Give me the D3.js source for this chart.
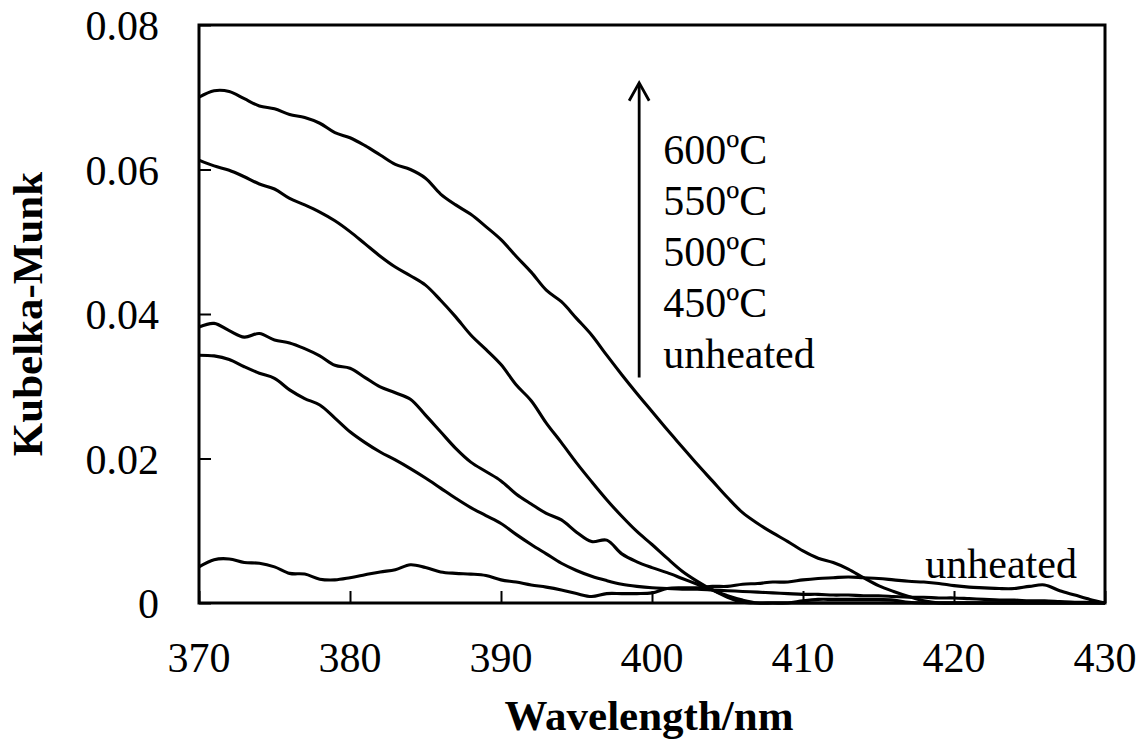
<!DOCTYPE html>
<meta charset="utf-8">
<style>
  body { margin: 0; background: #fff; }
  text { font-family: "Liberation Serif", "Times New Roman", serif; fill: #000; }
  .tick-label { font-size: 42px; }
  .axis-title { font-size: 43px; font-weight: bold; }
  .note { font-size: 42px; }
  .curve { fill: none; stroke: #000; stroke-width: 3.1px; stroke-linejoin: round; }
</style>
<body>
<script src="https://d3js.org/d3.v7.min.js"></script>
<script>

var width = 1145,
    height = 753,
    margin = {top: 25, right: 40, bottom: 150, left: 199};

// wavelength grid (nm)
var wavelength = d3.range(370, 431, 1);

// Kubelka-Munk values, one per nm
var km600 = [0.0700,0.0709,0.0708,0.0698,0.0688,0.0684,0.0676,0.0672,0.0664,0.0651,
             0.0644,0.0633,0.0620,0.0607,0.0600,0.0588,0.0566,0.0551,0.0538,0.0521,
             0.0503,0.0480,0.0458,0.0433,0.0417,0.0394,0.0371,0.0343,0.0316,0.0290,
             0.0265,0.0240,0.0216,0.0192,0.0169,0.0146,0.0125,0.0110,0.0097,0.0085,
             0.0072,0.0062,0.0056,0.0047,0.0035,0.0024,0.0016,0.0009,0.0003,0,
             0,0,0,0,0,0,0,0,0,0,0];
var km550 = [0.0613,0.0605,0.0599,0.0590,0.0580,0.0573,0.0560,0.0551,0.0541,0.0529,
             0.0514,0.0497,0.0480,0.0465,0.0453,0.0440,0.0419,0.0396,0.0371,0.0351,
             0.0330,0.0302,0.0280,0.0249,0.0222,0.0194,0.0168,0.0143,0.0120,0.0099,
             0.0081,0.0062,0.0044,0.0030,0.0018,0.0008,0.0001,0,0,0,
             0.0003,0.0005,0.0005,0.0005,0.0005,0.0005,0.0004,0.0001,0,0,
             0,0,0,0,0,0,0,0,0,0,0];
var km500 = [0.0382,0.0387,0.0377,0.0368,0.0373,0.0364,0.0360,0.0352,0.0342,0.0329,
             0.0325,0.0312,0.0299,0.0291,0.0282,0.0260,0.0237,0.0214,0.0195,0.0182,
             0.0169,0.0151,0.0137,0.0124,0.0115,0.0098,0.0085,0.0087,0.0068,0.0057,
             0.0049,0.0042,0.0034,0.0026,0.0018,0.0010,0.0004,0,0,0,
             0,0,0,0,0,0,0,0,0,0,
             0,0,0,0,0,0,0,0,0,0,0];
var km450 = [0.0343,0.0342,0.0337,0.0327,0.0318,0.0311,0.0295,0.0283,0.0274,0.0256,
             0.0237,0.0222,0.0209,0.0198,0.0186,0.0173,0.0159,0.0145,0.0132,0.0121,
             0.0110,0.0095,0.0081,0.0068,0.0055,0.0045,0.0037,0.0031,0.0026,0.0023,
             0.0021,0.0020,0.0019,0.0019,0.0018,0.0017,0.0016,0.0015,0.0014,0.0013,
             0.0012,0.0012,0.0011,0.0011,0.0010,0.0010,0.0009,0.0008,0.0008,0.0007,
             0.0007,0.0006,0.0005,0.0004,0.0004,0.0003,0.0003,0.0002,0.0001,0.0001,0];
var kmUnheated = [0.0050,0.0060,0.0061,0.0056,0.0055,0.0050,0.0041,0.0040,0.0033,0.0032,
                  0.0035,0.0039,0.0043,0.0046,0.0053,0.0049,0.0043,0.0041,0.0040,0.0038,
                  0.0032,0.0029,0.0025,0.0022,0.0018,0.0013,0.0009,0.0013,0.0013,0.0013,
                  0.0014,0.0020,0.0021,0.0021,0.0023,0.0023,0.0026,0.0027,0.0029,0.0029,
                  0.0032,0.0034,0.0035,0.0036,0.0035,0.0034,0.0032,0.0030,0.0029,0.0027,
                  0.0024,0.0022,0.0021,0.0020,0.0020,0.0023,0.0025,0.0017,0.0011,0.0005,0];

var seriesList = [km600, km550, km500, km450, kmUnheated];

var xTicks = [370, 380, 390, 400, 410, 420, 430];
var yTicks = [0, 0.02, 0.04, 0.06, 0.08];
var yTickLabels = ["0", "0.02", "0.04", "0.06", "0.08"];
var legendLabels = ["600ºC", "550ºC", "500ºC", "450ºC", "unheated"];

var svg = d3.select("body").append("svg")
    .attr("width", width)
    .attr("height", height);

var x = d3.scaleLinear()
    .domain([370, 430])
    .range([margin.left, width - margin.right]);

var y = d3.scaleLinear()
    .domain([0, 0.08])
    .range([height - margin.bottom, margin.top]);

// curves
var line = d3.line()
    .x(function(d) { return x(d[0]); })
    .y(function(d) { return y(d[1]); })
    .curve(d3.curveCatmullRom.alpha(0.5));

svg.selectAll("path.curve")
    .data(seriesList)
    .enter().append("path")
      .attr("class", "curve")
      .attr("d", function(vals) {
        return line(wavelength.map(function(w, i) { return [w, vals[i]]; }));
      });

// ticks, pointing inward
var xAxis = d3.axisTop(x).tickValues(xTicks).tickSize(12).tickFormat("");
var yAxis = d3.axisRight(y).tickValues(yTicks).tickSize(12).tickFormat("");

svg.append("g")
    .attr("transform", "translate(0," + y(0) + ")")
    .call(xAxis)
    .call(function(g) {
      g.select(".domain").remove();
      g.selectAll("line").attr("stroke", "#000").attr("stroke-width", 2);
    });

svg.append("g")
    .attr("transform", "translate(" + x(370) + ",0)")
    .call(yAxis)
    .call(function(g) {
      g.select(".domain").remove();
      g.selectAll("line").attr("stroke", "#000").attr("stroke-width", 2);
    });

// frame
svg.append("rect")
    .attr("x", x(370))
    .attr("y", y(0.08))
    .attr("width", x(430) - x(370))
    .attr("height", y(0) - y(0.08))
    .attr("fill", "none")
    .attr("stroke", "#000")
    .attr("stroke-width", 3);

// tick labels
svg.selectAll("text.xlab")
    .data(xTicks)
    .enter().append("text")
      .attr("class", "tick-label xlab")
      .attr("x", function(d) { return x(d); })
      .attr("y", y(0) + 69)
      .attr("text-anchor", "middle")
      .text(function(d) { return d; });

svg.selectAll("text.ylab")
    .data(yTicks)
    .enter().append("text")
      .attr("class", "tick-label ylab")
      .attr("x", x(370) - 40)
      .attr("y", function(d) { return y(d) + 15; })
      .attr("text-anchor", "end")
      .text(function(d, i) { return yTickLabels[i]; });

// axis titles
svg.append("text")
    .attr("class", "axis-title")
    .attr("x", (x(370) + x(430)) / 2 - 3)
    .attr("y", 730)
    .attr("text-anchor", "middle")
    .text("Wavelength/nm");

svg.append("text")
    .attr("class", "axis-title")
    .attr("transform", "translate(42," + ((y(0) + y(0.08)) / 2) + ")rotate(-90)")
    .attr("text-anchor", "middle")
    .text("Kubelka-Munk");

// arrow showing increasing temperature
var arrowX = x(399.15),
    arrowTop = y(0.072),
    arrowBottom = y(0.0312);

svg.append("line")
    .attr("x1", arrowX).attr("x2", arrowX)
    .attr("y1", arrowBottom).attr("y2", arrowTop + 1)
    .attr("stroke", "#000")
    .attr("stroke-width", 2.8);

svg.append("path")
    .attr("d", "M" + (arrowX - 10) + "," + (arrowTop + 18) + "L" + arrowX + "," + arrowTop + "L" + (arrowX + 10) + "," + (arrowTop + 18))
    .attr("fill", "none")
    .attr("stroke", "#000")
    .attr("stroke-width", 2.8);

svg.selectAll("text.note-list")
    .data(legendLabels)
    .enter().append("text")
      .attr("class", "note note-list")
      .attr("x", arrowX + 24)
      .attr("y", function(d, i) { return 164 + i * 51; })
      .text(function(d) { return d; });

svg.append("text")
    .attr("class", "note")
    .attr("x", x(418.1))
    .attr("y", 578)
    .text("unheated");

</script>
</body>
</html>
